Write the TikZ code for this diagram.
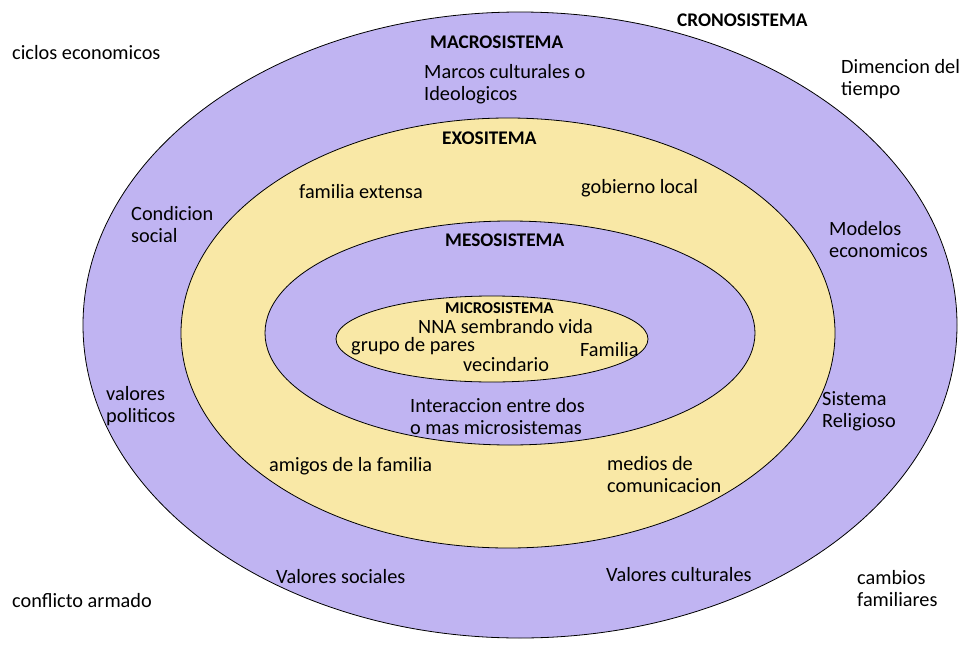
\documentclass[tikz,border=0pt]{standalone}
\usepackage{fontspec}
\setmainfont{Carlito}
\definecolor{lav}{RGB}{192,180,242}
\definecolor{cream}{RGB}{249,232,166}
\begin{document}
\begin{tikzpicture}[x=1pt,y=-1pt,
  ring/.style={draw=black,line width=0.8pt},
  lbl/.style={inner sep=0pt,anchor=west,align=left,font=\fontsize{20.3}{22}\selectfont},
  ttl/.style={inner sep=0pt,anchor=west,font=\fontsize{19.3}{22}\selectfont\bfseries},
  ttlsmall/.style={inner sep=0pt,anchor=west,font=\fontsize{16.5}{20}\selectfont\bfseries}]
\useasboundingbox (0,0) rectangle (964,648);
\fill[white] (0,0) rectangle (964,648);
\path[ring,fill=lav] (520,325) ellipse [x radius=437,y radius=313];
\path[ring,fill=cream] (508,333) ellipse [x radius=327,y radius=215];
\path[ring,fill=lav] (510,333) ellipse [x radius=245,y radius=112];
\path[ring,fill=cream] (492,339) ellipse [x radius=156,y radius=43];

\node[ttl] (crono) at (677,20) {CRONOSISTEMA};
\node[ttl] (macro) at (430,42) {MACROSISTEMA};
\node[lbl] (marcos) at (424,84) {Marcos culturales o\\Ideologicos};
\node[lbl] (ciclos) at (12,53) {ciclos economicos};
\node[lbl] (dimen) at (841,79) {Dimencion del\\tiempo};
\node[ttl] (exo) at (442,138) {EXOSITEMA};
\node[lbl] (famext) at (299,192) {familia extensa};
\node[lbl] (gob) at (581,188) {gobierno local};
\node[lbl] (cond) at (131,225) {Condicion\\social};
\node[lbl] (model) at (829,240) {Modelos\\economicos};
\node[ttl] (meso) at (445,240) {MESOSISTEMA};
\node[ttlsmall] (micro) at (445,308) {MICROSISTEMA};
\node[lbl] (nna) at (418,327) {NNA sembrando vida};
\node[lbl] (grupo) at (351,346) {grupo de pares};
\node[lbl] (fam) at (580,350) {Familia};
\node[lbl] (vec) at (463,365) {vecindario};
\node[lbl] (valpol) at (106,406) {valores\\politicos};
\node[lbl] (sist) at (822,411) {Sistema\\Religioso};
\node[lbl] (inter) at (410,417) {Interaccion entre dos\\o mas microsistemas};
\node[lbl] (amigos) at (269,466) {amigos de la familia};
\node[lbl] (medios) at (607,475) {medios de\\comunicacion};
\node[lbl] (valsoc) at (276,577) {Valores sociales};
\node[lbl] (valcul) at (606,575) {Valores culturales};
\node[lbl] (camb) at (857,589) {cambios\\familiares};
\node[lbl] (confl) at (12,601) {conflicto armado};
\end{tikzpicture}
\end{document}
